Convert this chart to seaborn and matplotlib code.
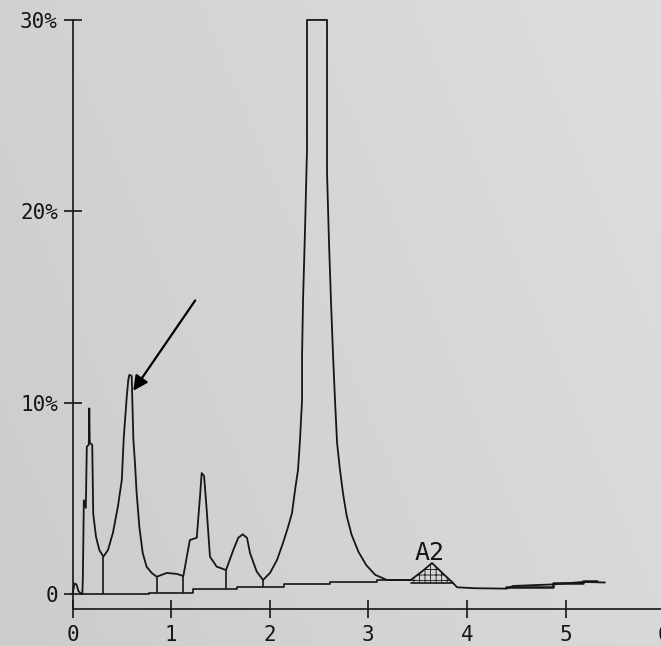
import numpy as np
import matplotlib.pyplot as plt
import seaborn as sns

# trace (minutes, % of full scale)
trace_x = [0.0, 0.02, 0.04, 0.06, 0.09, 0.10, 0.105, 0.115, 0.135, 0.145, 0.165, 0.17,
           0.175, 0.20, 0.21, 0.238, 0.272, 0.313, 0.36, 0.41, 0.46, 0.50, 0.52, 0.55,
           0.566, 0.576, 0.60, 0.617, 0.634, 0.65, 0.678, 0.712, 0.752, 0.803, 0.854,
           0.955, 1.057, 1.124, 1.19, 1.26, 1.293, 1.31, 1.334, 1.361, 1.394, 1.462,
           1.557, 1.631, 1.68, 1.726, 1.77, 1.80, 1.868, 1.932,
           2.003, 2.074, 2.135, 2.186, 2.226, 2.257, 2.287, 2.307, 2.328, 2.328, 2.338,
           2.358, 2.378, 2.378, 2.581, 2.581, 2.601, 2.622, 2.642, 2.662, 2.683, 2.712,
           2.745, 2.78, 2.83, 2.90, 2.98, 3.07, 3.19,
           3.43, 3.55, 3.646, 3.75, 3.86, 3.90, 4.08, 4.40, 4.47, 4.87, 5.18, 5.40]
trace_y = [0.0, 0.55, 0.5, 0.15, 0.0, 0.0, 0.9, 4.9, 4.5, 7.7, 7.8, 9.7,
           7.9, 7.8, 4.2, 3.0, 2.3, 1.95, 2.3, 3.2, 4.56, 5.96, 8.2, 10.3,
           11.2, 11.45, 11.4, 8.1, 6.8, 5.3, 3.5, 2.14, 1.42, 1.1, 0.9,
           1.1, 1.05, 0.94, 2.82, 2.94, 5.09, 6.32, 6.17, 4.39, 1.95, 1.43,
           1.25, 2.3, 2.93, 3.12, 2.93, 2.14, 1.17, 0.73,
           1.10, 1.78, 2.67, 3.50, 4.23, 5.44, 6.48, 8.05, 10.14, 12.49, 15.37,
           19.03, 23.2, 30.0, 30.0, 22.06, 18.4, 15.2, 12.5, 10.14, 7.9, 6.5,
           5.2, 4.1, 3.1, 2.2, 1.5, 1.0, 0.73,
           0.73, 1.2, 1.62, 1.1, 0.57, 0.35, 0.30, 0.28, 0.42, 0.50, 0.63, 0.60]

# integration baseline (step levels)
base_x = [0.10, 0.78, 1.22, 1.665, 2.14, 2.61, 3.09, 3.43]
base_y = [0.0, 0.07, 0.26, 0.37, 0.52, 0.64, 0.73, 0.73]
base2_x = [4.40, 4.87, 5.18, 5.32]
base2_y = [0.36, 0.55, 0.70, 0.70]

# peak separation drop lines
drop_x = [0.313, 0.854, 1.124, 1.557, 1.932]
drop_top = [1.95, 0.9, 0.94, 1.25, 0.73]
drop_bot = [0.0, 0.07, 0.07, 0.26, 0.37]

# shaded A2 peak
a2_start, a2_end, a2_level = 3.43, 3.86, 0.6

y_ticks = [0, 10, 20, 30]
y_labels = ['0', '10%', '20%', '30%']
x_ticks = [0, 1, 2, 3, 4, 5, 6]
x_labels = ['0', '1', '2', '3', '4', '5', '6']

sns.set_theme(style='white')
plt.rcParams['font.family'] = ['DejaVu Sans Mono']
plt.rcParams['hatch.linewidth'] = 0.6

ink = '#161616'
paper = '#d4d4d4'

fig = plt.figure(figsize=(6.61, 6.46), dpi=100, facecolor=paper)
# scanned paper: a little darker at the left/bottom, lighter at the top right
gx = np.linspace(0, 1, 661)
gy = np.linspace(1, 0, 646)
shade = 0.80 + 0.05 * gx[None, :] + 0.02 * gy[:, None]
fig.figimage(np.dstack([shade, shade, shade]), xo=0, yo=0, origin='upper', zorder=-10)

ax = fig.add_axes([0.1097, 0.0573, 0.9398, 0.9118])
ax.set_facecolor('none')

sns.lineplot(x=trace_x, y=trace_y, sort=False, estimator=None, color=ink,
             linewidth=1.3, ax=ax, clip_on=False)
ax.step(base_x, base_y, where='post', color=ink, linewidth=1.2)
ax.step(base2_x, base2_y, where='post', color=ink, linewidth=1.8)
ax.vlines(drop_x, drop_bot, drop_top, color=ink, linewidth=1.2)

tx = np.array(trace_x)
ty = np.array(trace_y)
mask = (tx >= a2_start) & (tx <= a2_end)
ax.fill_between(tx[mask], ty[mask], a2_level, facecolor='none', edgecolor=ink,
                hatch='+++', linewidth=0)
ax.plot([a2_start, a2_end], [a2_level, a2_level], color=ink, linewidth=1.2)
ax.text(3.62, 1.5, 'A2', fontsize=18, color=ink, ha='center', va='bottom',
        fontweight='light')

ax.annotate('', xy=(0.60, 10.5), xytext=(1.26, 15.46),
            arrowprops=dict(arrowstyle='-|>', mutation_scale=22, lw=1.6, color='black'))

ax.set_xlim(0, 6.3)
ax.set_ylim(-0.784, 30)
ax.set_xticks(x_ticks)
ax.set_xticklabels(x_labels)
ax.set_yticks(y_ticks)
ax.set_yticklabels(y_labels)
ax.tick_params(left=True, bottom=True, direction='inout', length=13, width=1.2,
               color=ink, labelsize=15, labelcolor=ink, pad=4)
ax.tick_params(axis='x', pad=5)

for side in ['top', 'right']:
    ax.spines[side].set_visible(False)
for side in ['left', 'bottom']:
    ax.spines[side].set_color(ink)
    ax.spines[side].set_linewidth(1.2)

ax.set_xlabel('')
ax.set_ylabel('')
fig.savefig('out.png', dpi=100)
